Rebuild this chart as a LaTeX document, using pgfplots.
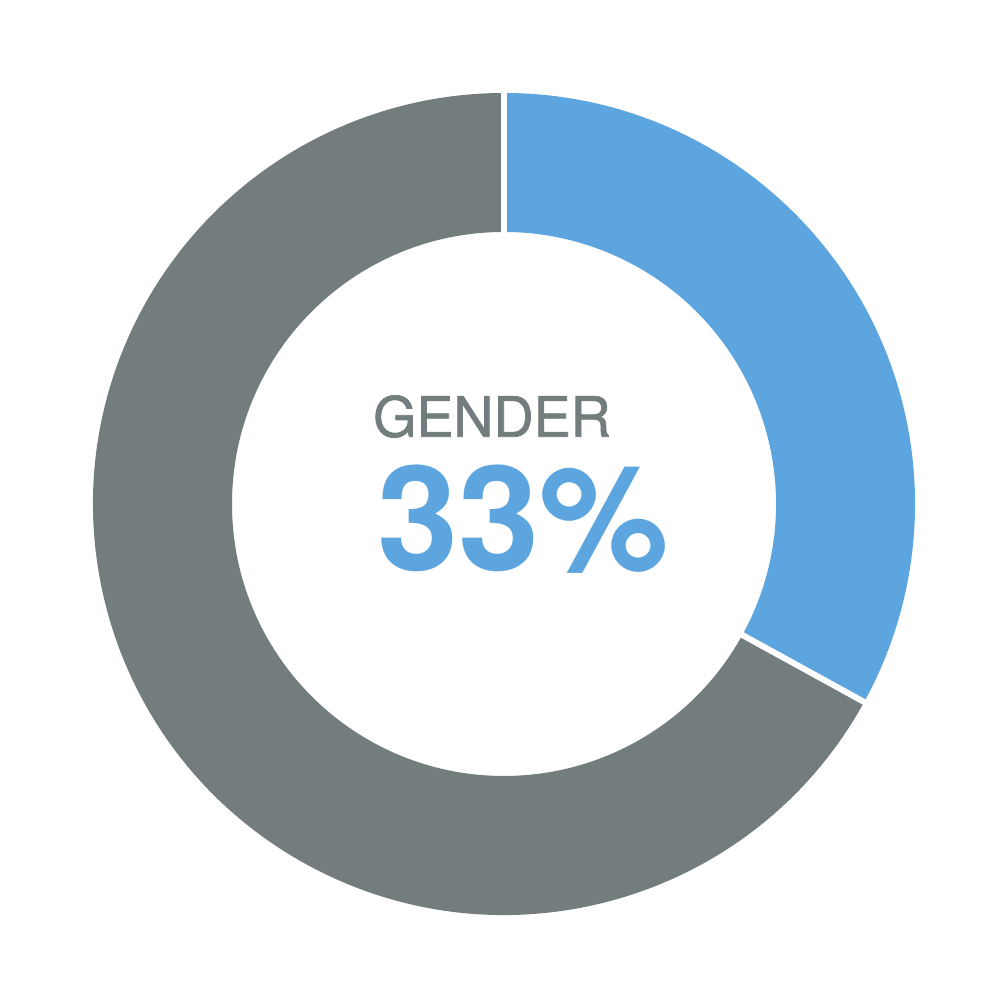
\documentclass[border=0pt]{standalone}
\usepackage{pgfplots}
\usepackage{pgfplotstable}
\pgfplotsset{compat=1.18}
\usepackage{fontspec}
\setmainfont{TeX Gyre Heros}
\newfontfamily\medfont[FakeBold=1.3]{TeX Gyre Heros}
\definecolor{cblue}{HTML}{5DA5DF}
\definecolor{cgray}{HTML}{737D7E}
\pgfplotstableread{
label value
Female 33
Other 67
}\donutdata
\begin{document}
\begin{tikzpicture}
\pgfplotstablegetelem{0}{value}\of\donutdata \let\va\pgfplotsretval
\pgfplotstablegetelem{1}{value}\of\donutdata \let\vb\pgfplotsretval
\pgfmathsetmacro{\tot}{\va+\vb}
\pgfmathsetmacro{\aend}{90-360*\va/\tot}
\def\Ro{4.11}
\def\Ri{2.72}
\begin{axis}[
  x=1cm, y=1cm,
  xmin=-5.04, xmax=5.04, ymin=-5.04, ymax=5.04,
  hide axis, scale only axis, clip=false,
]
% blue wedge (clockwise from top)
\fill[cblue] (axis cs:0,0) ++(90:\Ro cm) arc[start angle=90, end angle=\aend, radius=\Ro cm]
  -- ++(\aend+180:{(\Ro-\Ri)*1cm}) arc[start angle=\aend, end angle=90, radius=\Ri cm] -- cycle;
% gray wedge
\fill[cgray] (axis cs:0,0) ++(\aend:\Ro cm) arc[start angle=\aend, end angle=-270, radius=\Ro cm]
  -- ++(-90:{(\Ro-\Ri)*1cm}) arc[start angle=-270, end angle=\aend, radius=\Ri cm] -- cycle;
% separators
\draw[white, line width=1.7pt] (axis cs:0,0) ++(90:{(\Ri-0.1)*1cm}) -- ++(90:{(\Ro-\Ri+0.2)*1cm});
\draw[white, line width=1.7pt] (axis cs:0,0) ++(\aend:{(\Ri-0.1)*1cm}) -- ++(\aend:{(\Ro-\Ri+0.2)*1cm});
\node[text=cgray, font=\fontsize{15.8}{18}\medfont] at (axis cs:-0.12,0.875) {GENDER};
\node[text=cblue, font=\fontsize{41.5}{48}\selectfont\bfseries] at (axis cs:0.19,-0.155) {33\%};
\end{axis}
\pgfresetboundingbox
\path (0,0) rectangle (10.08cm,10.08cm);
\end{tikzpicture}
\end{document}
